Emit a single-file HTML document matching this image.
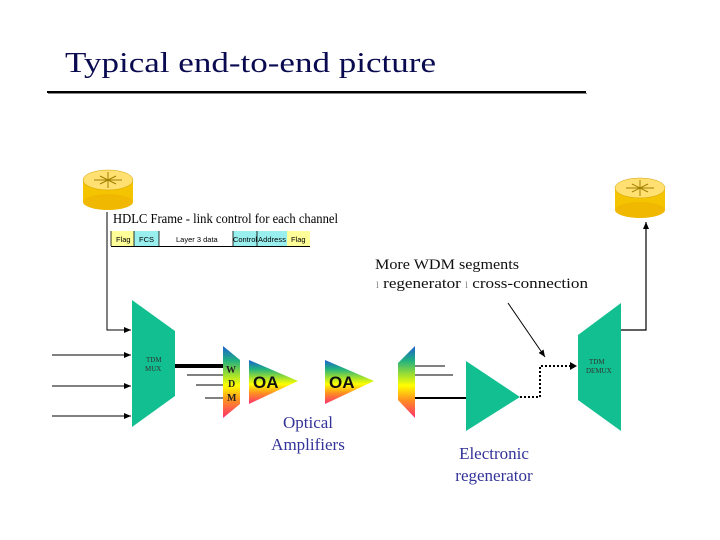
<!DOCTYPE html>
<html><head><meta charset="utf-8"><style>html,body{margin:0;padding:0;background:#fff}svg{display:block}</style></head>
<body>
<svg width="720" height="540" xmlns="http://www.w3.org/2000/svg" font-family="Liberation Serif, serif">
<defs>
<linearGradient id="sp" x1="0" y1="0" x2="0" y2="1">
<stop offset="0" stop-color="#1e5fd0"/><stop offset="0.2" stop-color="#20b080"/><stop offset="0.4" stop-color="#a0e030"/><stop offset="0.55" stop-color="#ffff00"/><stop offset="0.75" stop-color="#ff9020"/><stop offset="1" stop-color="#ff3070"/>
</linearGradient>
<marker id="ah" markerWidth="8" markerHeight="8" refX="7" refY="4" orient="auto" markerUnits="userSpaceOnUse"><path d="M0,1 L7,4 L0,7Z" fill="#000"/></marker>
</defs>
<text x="65" y="72" font-size="28" fill="#0a0a50" textLength="371" lengthAdjust="spacingAndGlyphs">Typical end-to-end picture</text>
<rect x="47" y="91" width="539" height="2" fill="#000"/>
<rect x="48" y="93" width="539" height="1" fill="#888"/>
<g>
<rect x="83" y="180" width="50" height="22" fill="#f5c400"/>
<ellipse cx="108" cy="202" rx="25" ry="8" fill="#f0b800"/>
<ellipse cx="108" cy="180" rx="25" ry="10" fill="#ffe070" stroke="#d0a000" stroke-width="0.5"/>
<path d="M94,180h28M108,172v16M100,176l16,8M100,184l16,-8" stroke="#a08000" stroke-width="1"/>
</g>
<g>
<rect x="615" y="188" width="50" height="22" fill="#f5c400"/>
<ellipse cx="640" cy="210" rx="25" ry="8" fill="#f0b800"/>
<ellipse cx="640" cy="188" rx="25" ry="10" fill="#ffe070" stroke="#d0a000" stroke-width="0.5"/>
<path d="M626,188h28M640,180v16M632,184l16,8M632,192l16,-8" stroke="#a08000" stroke-width="1"/>
</g>
<text x="113" y="223" font-size="13.5" fill="#000" textLength="225" lengthAdjust="spacingAndGlyphs">HDLC Frame - link control for each channel</text>
<g font-family="Liberation Sans, sans-serif" font-size="7.5" fill="#000">
<rect x="111" y="231" width="23" height="15" fill="#ffff99"/><text x="116" y="242">Flag</text>
<rect x="134" y="231" width="25" height="15" fill="#99eeee"/><text x="139" y="242">FCS</text>
<text x="176" y="242">Layer 3 data</text>
<rect x="233" y="231" width="24" height="15" fill="#99eeee"/><text x="233" y="242" textLength="24">Control</text>
<rect x="257" y="231" width="30" height="15" fill="#99eeee"/><text x="258" y="242" textLength="28">Address</text>
<rect x="287" y="231" width="23" height="15" fill="#ffff99"/><text x="291" y="242">Flag</text>
<path d="M111,231v15M134,231v15M159,231v15M233,231v15M257,231v15" stroke="#000" stroke-width="0.8"/>
<path d="M111,246.5H310" stroke="#000" stroke-width="1"/>
</g>
<path d="M107,212V330H131" fill="none" stroke="#000" stroke-width="1" marker-end="url(#ah)"/>
<path d="M52,355H131" stroke="#000" stroke-width="1" marker-end="url(#ah)"/>
<path d="M52,386H131" stroke="#000" stroke-width="1" marker-end="url(#ah)"/>
<path d="M52,416H131" stroke="#000" stroke-width="1" marker-end="url(#ah)"/>
<polygon points="132,300 175,331 175,396 132,427" fill="#12bf90"/>
<text x="146" y="362" font-size="7" fill="#333">TDM</text><text x="145" y="371" font-size="7" fill="#333">MUX</text>
<path d="M175,366H223" stroke="#000" stroke-width="4"/>
<path d="M187,375H223M196,385H223M205,398H223" stroke="#000" stroke-width="1"/>
<polygon points="223,346 240,360 240,404 223,418" fill="url(#sp)"/>
<g font-size="10" font-weight="bold" fill="#222"><text x="226" y="373">W</text><text x="228" y="387">D</text><text x="227" y="401">M</text></g>
<polygon points="249,360 298,381 249,404" fill="url(#sp)"/>
<polygon points="325,360 374,381 325,404" fill="url(#sp)"/>
<g font-family="Liberation Sans, sans-serif" font-size="17" font-weight="bold" fill="#111"><text x="253" y="388">OA</text><text x="329" y="388">OA</text></g>
<g font-size="17" fill="#333399" text-anchor="middle"><text x="308" y="428">Optical</text><text x="308" y="450">Amplifiers</text></g>
<polygon points="398,363 415,346 415,418 398,400" fill="url(#sp)"/>
<path d="M415,366H445M415,375H453" stroke="#000" stroke-width="1"/>
<path d="M415,398H466" stroke="#000" stroke-width="2"/>
<polygon points="466,361 520,397 466,431" fill="#12bf90"/>
<g font-size="17" fill="#333399" text-anchor="middle"><text x="494" y="459">Electronic</text><text x="494" y="481">regenerator</text></g>
<path d="M520,397H540V366H574" fill="none" stroke="#000" stroke-width="2" stroke-dasharray="2,2"/>
<path d="M570,362L577,366L570,370Z" fill="#000"/>
<path d="M508,303L545,357" stroke="#000" stroke-width="1" marker-end="url(#ah)"/>
<text x="375" y="269" font-size="15" fill="#111" textLength="144" lengthAdjust="spacingAndGlyphs">More WDM segments</text>
<text x="376" y="288" font-size="15" fill="#111" textLength="212" lengthAdjust="spacingAndGlyphs"><tspan font-size="9" fill="#888">l</tspan> regenerator <tspan font-size="9" fill="#888">l</tspan> cross-connection</text>
<polygon points="578,335 621,303 621,431 578,400" fill="#12bf90"/>
<text x="589" y="364" font-size="7" fill="#333">TDM</text><text x="586" y="373" font-size="7" fill="#333">DEMUX</text>
<path d="M621,330H646V222" fill="none" stroke="#000" stroke-width="1.2" marker-end="url(#ah)"/>
</svg>
</body></html>
